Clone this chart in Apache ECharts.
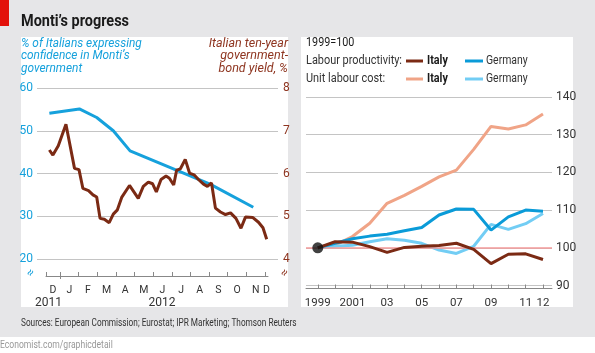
<!DOCTYPE html>
<html>
<head>
<meta charset="utf-8">
<script src="https://cdn.jsdelivr.net/npm/echarts@6/dist/echarts.min.js"></script>
<style>
  html, body { margin: 0; padding: 0; background: #fff; }
  #chart { width: 595px; height: 353px; }
</style>
</head>
<body>
<div id="chart"></div>
<script>
// 左图：x 为 2012-01-01 起算的月份（小数）
const confMonths = [-0.57, 1.04, 1.97, 2.86, 3.76, 8.05, 10.37];
const confValues = [54.1, 55.1, 53.1, 50.0, 45.3, 37.5, 32.1];

const bondMonths = [-0.57, -0.38, -0.09, 0.32, 0.78, 1.02, 1.23, 1.53, 1.77, 1.97,
  2.15, 2.38, 2.64, 2.86, 3.08, 3.31, 3.73, 4.20, 4.47, 4.74,
  4.97, 5.17, 5.42, 5.69, 5.87, 6.10, 6.26, 6.46, 6.72, 6.95,
  7.19, 7.43, 7.70, 7.91, 8.13, 8.34, 8.61, 8.88, 9.15, 9.44,
  9.71, 9.95, 10.35, 10.65, 10.89, 11.09];
const bondValues = [6.55, 6.43, 6.65, 7.15, 6.12, 6.09, 5.65, 5.60, 5.50, 5.45,
  4.95, 4.93, 4.85, 5.05, 5.15, 5.44, 5.72, 5.42, 5.70, 5.80,
  5.76, 5.57, 5.86, 5.94, 5.89, 5.73, 6.08, 6.11, 6.33, 6.01,
  5.97, 5.86, 5.75, 5.70, 5.78, 5.19, 5.10, 5.04, 5.08, 4.95,
  4.72, 4.98, 4.97, 4.86, 4.73, 4.46];

const monthTicks = [-0.75, 0, 1, 2, 3, 4, 5, 6, 7, 8, 9, 10, 11];
const monthLabelPos = [-0.375, 0.5, 1.5, 2.5, 3.5, 4.5, 5.5, 6.5, 7.5, 8.5, 9.5, 10.5, 11.08];
const monthLabels = ['D', 'J', 'F', 'M', 'A', 'M', 'J', 'J', 'A', 'S', 'O', 'N', 'D'];
const yearPos = [-0.62, 5.47];
const yearLabels = ['2011', '2012'];

// 右图：1999=100
const years = [1999, 2000, 2001, 2002, 2003, 2004, 2005, 2006, 2007, 2008, 2009, 2010, 2011, 2012];
const italyProd = [100, 101.6, 101.5, 100.3, 98.8, 100.1, 100.4, 100.6, 101.2, 99.6, 95.8, 98.3, 98.4, 96.9];
const germanyProd = [100, 101.2, 102.4, 103.1, 103.6, 104.5, 105.4, 108.7, 110.3, 110.2, 104.7, 108.2, 110.0, 109.7];
const italyUlc = [100, 100.7, 103.0, 106.5, 111.8, 113.9, 116.3, 118.8, 120.6, 126.1, 132.2, 131.5, 132.6, 135.5];
const germanyUlc = [100, 100.4, 100.7, 101.6, 102.4, 102.0, 101.2, 99.4, 98.5, 100.4, 106.2, 104.9, 106.4, 109.1];
const yearLabelValues = [1999, 2001, 2003, 2005, 2007, 2009, 2011, 2012];

const FONT = "Roboto, 'Noto Sans', sans-serif";
const BLUE = '#16a1dc';
const BROWN = '#7b2a14';
const BROWN_TEXT = '#8e3520';
const GRID = '#c4c4c4';
const TEXT = '#333';

const pairs = (xs, ys) => xs.map((x, i) => [x, ys[i]]);

// 文字（窄体，用 scaleX 压缩）
const label = (x, y, text, font, fill, sx, align) => ({
  type: 'text', x: x, y: y, scaleX: sx,
  style: { text: text, font: font, fill: fill, align: align || 'left', verticalAlign: 'middle', lineHeight: 12.5 }
});

const chart = echarts.init(document.getElementById('chart'));

const option = {
  animation: false,
  backgroundColor: '#fff',
  textStyle: { fontFamily: FONT },
  graphic: [
    { type: 'rect', z: -10, shape: { x: 0, y: 0, width: 595, height: 337 }, style: { fill: '#e6e6e8' } },
    { type: 'rect', z: -9, shape: { x: 0, y: 0, width: 9, height: 26 }, style: { fill: '#e3120b' } },
    { type: 'rect', z: -9, shape: { x: 21, y: 37, width: 267, height: 270 }, style: { fill: '#fff' } },
    { type: 'rect', z: -9, shape: { x: 301, y: 37, width: 272, height: 270 }, style: { fill: '#fff' } },
    label(21, 22, 'Monti\u2019s progress', 'bold 17px ' + FONT, '#1a1a1a', 0.85),
    label(21, 56, '% of Italians expressing\nconfidence in Monti\u2019s\ngovernment', 'italic 12.5px ' + FONT, BLUE, 0.95),
    label(288, 56, 'Italian ten-year\ngovernment-\nbond yield, %', 'italic 12.5px ' + FONT, BROWN_TEXT, 1.0, 'right'),
    { type: 'text', x: 31, y: 273, rotation: 1.05, style: { text: '\u2248', font: '12px ' + FONT, fill: BLUE, align: 'center', verticalAlign: 'middle' } },
    { type: 'text', x: 285, y: 273, rotation: 1.05, style: { text: '\u2248', font: '12px ' + FONT, fill: BROWN_TEXT, align: 'center', verticalAlign: 'middle' } },
    // 右图图例
    label(306, 43, '1999=100', '12px ' + FONT, '#1a1a1a', 0.9),
    label(306, 61, 'Labour productivity:', '12px ' + FONT, TEXT, 0.91),
    label(306, 79, 'Unit labour cost:', '12px ' + FONT, TEXT, 0.91),
    { type: 'line', shape: { x1: 406, y1: 61, x2: 423, y2: 61 }, style: { stroke: BROWN, lineWidth: 3 } },
    { type: 'line', shape: { x1: 465, y1: 61, x2: 483, y2: 61 }, style: { stroke: '#0a9bd8', lineWidth: 3 } },
    { type: 'line', shape: { x1: 406, y1: 79, x2: 423, y2: 79 }, style: { stroke: '#f0a487', lineWidth: 3 } },
    { type: 'line', shape: { x1: 465, y1: 79, x2: 483, y2: 79 }, style: { stroke: '#72cdf4', lineWidth: 3 } },
    label(427, 61, 'Italy', 'bold 12px ' + FONT, '#1a1a1a', 0.9),
    label(427, 79, 'Italy', 'bold 12px ' + FONT, '#1a1a1a', 0.9),
    label(486, 61, 'Germany', '12px ' + FONT, TEXT, 0.87),
    label(486, 79, 'Germany', '12px ' + FONT, TEXT, 0.87),
    label(21, 323, 'Sources: European Commission; Eurostat; IPR Marketing; Thomson Reuters', '11px ' + FONT, TEXT, 0.75),
    label(0, 345, 'Economist.com/graphicdetail', '11px ' + FONT, '#999', 0.78)
  ],
  grid: [
    { left: 37, right: 317, top: 88, height: 171 },
    { left: 46, right: 327, top: 88, height: 171 },
    { left: 306, right: 43, top: 97, height: 188.5 }
  ],
  xAxis: [
    { gridIndex: 0, type: 'value', min: 0, max: 1, show: false },
    {
      gridIndex: 1, type: 'value', min: -0.75, max: 11.16, position: 'bottom', offset: 17,
      axisLine: { lineStyle: { color: '#888', width: 1 } },
      axisTick: { inside: true, length: 4, customValues: monthTicks, lineStyle: { color: '#888' } },
      axisLabel: {
        customValues: monthLabelPos, margin: 9, fontSize: 10.5, color: TEXT,
        formatter: v => monthLabels[monthLabelPos.indexOf(v)] || ''
      },
      splitLine: { show: false }
    },
    {
      gridIndex: 1, type: 'value', min: -0.75, max: 11.16, position: 'bottom', offset: 17,
      axisLine: { show: false },
      axisTick: { inside: false, length: 3, customValues: [0], lineStyle: { color: '#888' } },
      axisLabel: {
        customValues: yearPos, margin: 21, fontSize: 12, color: TEXT,
        formatter: v => yearLabels[yearPos.indexOf(v)] || ''
      },
      splitLine: { show: false }
    },
    {
      gridIndex: 2, type: 'value', min: 1998.32, max: 2012.52, position: 'bottom', offset: 3,
      axisLine: { lineStyle: { color: '#888', width: 1 } },
      axisTick: { inside: true, length: 4, customValues: years, lineStyle: { color: '#888' } },
      axisLabel: {
        customValues: yearLabelValues, margin: 9, fontSize: 11.5, color: TEXT,
        formatter: v => (v === 1999 || v === 2001) ? String(v) : String(v).slice(2)
      },
      splitLine: { show: false }
    }
  ],
  yAxis: [
    {
      gridIndex: 0, type: 'value', position: 'left', min: 20, max: 60, interval: 10,
      axisLine: { show: false }, axisTick: { show: false },
      axisLabel: { color: BLUE, fontSize: 12, margin: 4 },
      splitLine: { lineStyle: { color: GRID, width: 1 } }
    },
    {
      gridIndex: 0, type: 'value', position: 'right', min: 4, max: 8, interval: 1,
      axisLine: { show: false }, axisTick: { show: false },
      axisLabel: { color: BROWN_TEXT, fontSize: 12, margin: 5 },
      splitLine: { show: false }
    },
    { gridIndex: 1, type: 'value', position: 'left', min: 20, max: 60, show: false },
    { gridIndex: 1, type: 'value', position: 'right', min: 4, max: 8, show: false },
    {
      gridIndex: 2, type: 'value', position: 'right', min: 90, max: 140, interval: 10,
      axisLine: { show: false }, axisTick: { show: false },
      axisLabel: { color: TEXT, fontSize: 12, margin: 4 },
      splitLine: { lineStyle: { color: GRID, width: 1 } }
    }
  ],
  series: [
    {
      name: 'Confidence', type: 'line', xAxisIndex: 1, yAxisIndex: 2,
      data: pairs(confMonths, confValues), showSymbol: false,
      lineStyle: { color: BLUE, width: 3 }, z: 3
    },
    {
      name: 'Bond yield', type: 'line', xAxisIndex: 1, yAxisIndex: 3,
      data: pairs(bondMonths, bondValues), showSymbol: false,
      lineStyle: { color: BROWN, width: 3 }, z: 4
    },
    {
      name: 'Unit labour cost Italy', type: 'line', xAxisIndex: 3, yAxisIndex: 4,
      data: pairs(years, italyUlc), showSymbol: false,
      lineStyle: { color: '#f0a487', width: 3 }, z: 3,
      markLine: {
        silent: true, symbol: 'none', label: { show: false },
        lineStyle: { color: '#f39a9a', width: 1.5, type: 'solid' },
        data: [{ yAxis: 100 }]
      }
    },
    {
      name: 'Unit labour cost Germany', type: 'line', xAxisIndex: 3, yAxisIndex: 4,
      data: pairs(years, germanyUlc), showSymbol: false,
      lineStyle: { color: '#72cdf4', width: 3 }, z: 4
    },
    {
      name: 'Labour productivity Germany', type: 'line', xAxisIndex: 3, yAxisIndex: 4,
      data: pairs(years, germanyProd), showSymbol: false,
      lineStyle: { color: '#0a9bd8', width: 3 }, z: 5
    },
    {
      name: 'Labour productivity Italy', type: 'line', xAxisIndex: 3, yAxisIndex: 4,
      data: pairs(years, italyProd), showSymbol: false,
      lineStyle: { color: BROWN, width: 3 }, z: 6
    },
    {
      name: 'Base', type: 'scatter', xAxisIndex: 3, yAxisIndex: 4,
      data: [[years[0], italyProd[0]]], symbolSize: 11,
      itemStyle: { color: '#111' }, z: 10
    }
  ]
};

chart.setOption(option);
</script>
</body>
</html>
